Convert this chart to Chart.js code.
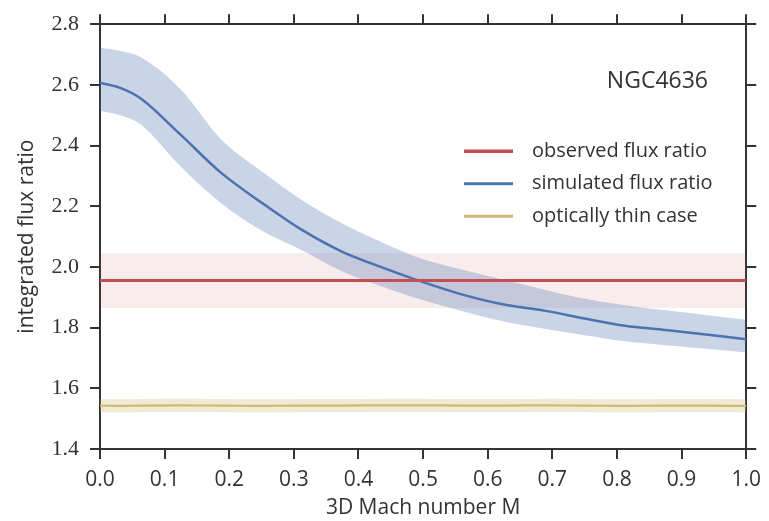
<!DOCTYPE html>
<html>
<head>
<meta charset="utf-8">
<script src="https://cdn.jsdelivr.net/npm/chart.js@4"></script>
<style>
  html, body { margin: 0; padding: 0; background: #fff; }
</style>
</head>
<body>
<canvas id="chart" width="769" height="521"></canvas>
<script>
// Mach number grid of the simulation
var mach = [0, 0.03125, 0.0625, 0.125, 0.1875, 0.25, 0.3125, 0.375, 0.4375, 0.5,
            0.5625, 0.625, 0.6875, 0.75, 0.8125, 0.875, 0.9375, 1.0];
var simMean  = [2.607, 2.59, 2.556, 2.435, 2.31, 2.212, 2.122, 2.05, 1.998, 1.95,
                1.908, 1.876, 1.856, 1.83, 1.806, 1.792, 1.777, 1.762];
var simUpper = [2.722, 2.712, 2.692, 2.585, 2.42, 2.315, 2.22, 2.143, 2.08, 2.025,
                1.99, 1.958, 1.925, 1.895, 1.874, 1.857, 1.842, 1.826];
var simLower = [2.515, 2.50, 2.47, 2.33, 2.21, 2.12, 2.055, 1.985, 1.935, 1.89,
                1.853, 1.82, 1.796, 1.775, 1.755, 1.742, 1.73, 1.718];
var thinMean = [1.543, 1.542, 1.543, 1.544, 1.543, 1.542, 1.543, 1.543, 1.544, 1.544,
                1.543, 1.543, 1.544, 1.543, 1.542, 1.543, 1.543, 1.542];
var thinErr = 0.022;

var obsMach = [0, 1];
var obsRatio = 1.955;
var obsErr = 0.09;

var xTicks = [0, 0.1, 0.2, 0.3, 0.4, 0.5, 0.6, 0.7, 0.8, 0.9, 1.0];
var yTicks = [1.4, 1.6, 1.8, 2.0, 2.2, 2.4, 2.6, 2.8];

var legendNames = ["observed flux ratio", "simulated flux ratio", "optically thin case"];
var sourceName = "NGC4636";

var blue = "#4C72B0", red = "#C44E52", yellow = "#CCB974";

function pts(xs, ys) {
  return xs.map(function (x, i) { return { x: x, y: ys[i] }; });
}
function constPts(xs, v) {
  return xs.map(function (x) { return { x: x, y: v }; });
}

var lineBase = { pointRadius: 0, cubicInterpolationMode: "monotone", fill: false };

var datasets = [
  // 0,1 observed band
  Object.assign({ data: constPts(obsMach, obsRatio + obsErr), borderWidth: 0, order: 10 }, lineBase),
  Object.assign({}, lineBase, { data: constPts(obsMach, obsRatio - obsErr), borderWidth: 0,
    fill: 0, backgroundColor: "rgba(196,78,82,0.11)", order: 9 }),
  // 2,3 simulated band
  Object.assign({ data: pts(mach, simUpper), borderWidth: 0, order: 8 }, lineBase),
  Object.assign({}, lineBase, { data: pts(mach, simLower), borderWidth: 0,
    fill: 2, backgroundColor: "rgba(76,114,176,0.3)", order: 7 }),
  // 4,5 optically thin band
  Object.assign({ data: pts(mach, thinMean.map(function (v) { return v + thinErr; })), borderWidth: 0, order: 6 }, lineBase),
  Object.assign({}, lineBase, { data: pts(mach, thinMean.map(function (v) { return v - thinErr; })), borderWidth: 0,
    fill: 4, backgroundColor: "rgba(204,185,116,0.3)", order: 5 }),
  // lines
  Object.assign({ label: legendNames[2], data: pts(mach, thinMean), borderColor: yellow, borderWidth: 2.2, order: 3 }, lineBase),
  Object.assign({ label: legendNames[1], data: pts(mach, simMean), borderColor: blue, borderWidth: 2.5, order: 2 }, lineBase),
  Object.assign({ label: legendNames[0], data: constPts(obsMach, obsRatio), borderColor: red, borderWidth: 3, order: 1 }, lineBase)
];

var legendItems = [
  { text: legendNames[0], color: red, width: 3.5 },
  { text: legendNames[1], color: blue, width: 3 },
  { text: legendNames[2], color: yellow, width: 3 }
];

var annotate = {
  id: "annotate",
  afterDraw: function (chart) {
    var ctx = chart.ctx, a = chart.chartArea;
    ctx.save();
    ctx.fillStyle = "#333";
    ctx.font = "23px 'Open Sans'";
    ctx.textAlign = "right";
    ctx.textBaseline = "middle";
    ctx.fillText(sourceName, a.left + 608, a.top + 57);

    ctx.font = "20px 'Open Sans'";
    ctx.textAlign = "left";
    legendItems.forEach(function (it, i) {
      var y = a.top + 127 + i * 32.5;
      ctx.strokeStyle = it.color;
      ctx.lineWidth = it.width;
      ctx.beginPath();
      ctx.moveTo(a.left + 364, y);
      ctx.lineTo(a.left + 413, y);
      ctx.stroke();
      ctx.fillText(it.text, a.left + 432, y);
    });
    ctx.restore();
  }
};

var gridOpts = { drawOnChartArea: false, drawTicks: true, tickLength: 10, color: "#333", lineWidth: 2 };
var borderOpts = { display: true, color: "#333", width: 2 };
var textColor = "#333";

function xTickCb(v) { return xTicks.indexOf(Math.round(v * 10) / 10) >= 0 ? v.toFixed(1) : ""; }
function yTickCb(v) { return v.toFixed(1); }

new Chart(document.getElementById("chart"), {
  type: "line",
  data: { datasets: datasets },
  options: {
    responsive: false,
    animation: false,
    layout: { padding: 0 },
    plugins: { legend: { display: false }, tooltip: { enabled: false } },
    scales: {
      x: {
        type: "linear", position: "bottom", min: xTicks[0], max: xTicks[xTicks.length - 1],
        grid: gridOpts, border: borderOpts,
        ticks: { stepSize: 0.1, callback: xTickCb, color: textColor, padding: 8,
                 maxRotation: 0, font: { family: "'Open Sans'", size: 21 } },
        title: { display: true, text: "3D Mach number M", color: textColor,
                 font: { family: "'Open Sans'", size: 21 }, padding: { top: 0, bottom: 0 } },
        afterFit: function (s) { s.height = 72; }
      },
      x2: {
        type: "linear", position: "top", min: xTicks[0], max: xTicks[xTicks.length - 1],
        grid: gridOpts, border: borderOpts,
        ticks: { stepSize: 0.1, display: false },
        afterFit: function (s) { s.height = 17; }
      },
      y: {
        type: "linear", position: "left", min: yTicks[0], max: yTicks[yTicks.length - 1],
        grid: gridOpts, border: borderOpts,
        ticks: { stepSize: 0.2, callback: yTickCb, color: textColor, padding: 11,
                 font: { family: "'Liberation Serif'", size: 22 } },
        title: { display: true, text: "integrated flux ratio", color: textColor,
                 font: { family: "'Open Sans'", size: 21 }, padding: { top: 14, bottom: 0 } },
        afterFit: function (s) { s.width = 100; }
      },
      y2: {
        type: "linear", position: "right", min: yTicks[0], max: yTicks[yTicks.length - 1],
        grid: gridOpts, border: borderOpts,
        ticks: { stepSize: 0.2, display: false },
        afterFit: function (s) { s.width = 22; }
      }
    }
  },
  plugins: [annotate]
});
</script>
</body>
</html>
